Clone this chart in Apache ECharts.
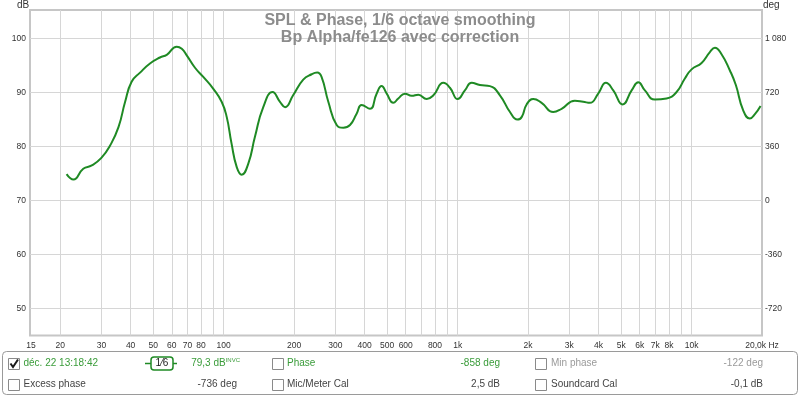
<!DOCTYPE html>
<html>
<head>
<meta charset="utf-8">
<script src="https://cdn.jsdelivr.net/npm/echarts@6/dist/echarts.min.js"></script>
<style>
  html, body { margin: 0; padding: 0; background: #fff; }
  #main { width: 800px; height: 397px; }
</style>
</head>
<body>
<div id="main"></div>
<script>
// SPL curve
const freqHz = [21.3, 22.8, 25.1, 27.3, 30, 32.7, 35.5, 37.9, 40.4, 43.9, 48.4, 53.4, 57.1, 63, 66.2, 69.5,
  75.4, 81.8, 90.3, 98, 103, 108, 113.7, 119.4, 127.5, 136, 147.6, 161.9, 174, 183, 198, 218.8, 237.7,
  251, 262, 280, 304, 324.6, 346.7, 370, 388.7, 421.9, 450.5, 473, 497.6, 531, 557.6, 595.5, 636, 679,
  737.7, 787.6, 868.7, 927, 1000, 1074, 1148, 1245, 1374, 1516, 1674, 1800, 1880, 1972, 2105, 2285,
  2563, 2782, 3170, 3441, 3676, 3990, 4303, 4627, 5073, 5543, 5920, 6317, 6966, 7814, 8627, 9361,
  10000, 11036, 11975, 12580, 13430, 14580, 15460, 16620, 17750, 18650, 19720];
const splDb = [74.9, 73.9, 75.9, 76.5, 77.9, 80.2, 83.6, 88.3, 92.0, 93.7, 95.4, 96.5, 97.0, 98.5, 98.1, 96.9,
  94.6, 92.9, 90.7, 88.3, 85.5, 80.6, 76.2, 74.8, 76.9, 81.8, 87.3, 90.1, 88.3, 87.3, 89.5, 92.4, 93.4,
  93.7, 92.9, 88.3, 84.0, 83.5, 84.0, 86.1, 87.7, 87.0, 89.8, 91.2, 89.8, 88.1, 88.9, 89.8, 89.4, 89.6,
  88.8, 89.5, 91.8, 90.9, 88.8, 90.4, 91.8, 91.4, 91.2, 89.5, 86.4, 85.0, 85.5, 87.8, 88.8, 88.1,
  86.4, 87.0, 88.5, 88.3, 88.1, 89.8, 91.8, 90.4, 87.8, 90.4, 91.9, 90.4, 88.7, 88.9, 90.1, 92.6,
  94.3, 95.5, 97.5, 98.3, 97.1, 94.1, 91.4, 86.7, 85.2, 86.0, 87.5];

const xLabelHz = [15, 20, 30, 40, 50, 60, 70, 80, 100, 200, 300, 400, 500, 600, 800,
  1000, 2000, 3000, 4000, 5000, 6000, 7000, 8000, 10000, 20000];
const xGridHz = [20, 30, 40, 50, 60, 70, 80, 90, 100, 200, 300, 400, 500, 600, 700, 800, 900,
  1000, 2000, 3000, 4000, 5000, 6000, 7000, 8000, 9000, 10000];
const dbTicks = [50, 60, 70, 80, 90, 100];
const phaseTicks = [-720, -360, 0, 360, 720, 1080];

const FONT = 'Liberation Sans, Arial, sans-serif';
const GREEN = '#1f8a24';
const TXTGREEN = '#3a9c3a';

const chart = echarts.init(document.getElementById('main'));

function hzLabel(v) {
  const f = Math.round(Math.pow(10, v));
  if (f >= 20000) return '20,0k Hz';
  if (f >= 1000) return (f / 1000) + 'k';
  return String(f);
}

function box(x, y) {
  return { type: 'rect', shape: { x: x, y: y, width: 11, height: 11 },
    style: { fill: '#fff', stroke: '#8a8a8a', lineWidth: 1 } };
}
function txt(x, y, s, color, align) {
  return { type: 'text', x: x, y: y,
    style: { text: s, fill: color, font: '10px ' + FONT, align: align || 'left', textAlign: align || 'left',
      verticalAlign: 'middle', textVerticalAlign: 'middle' } };
}

const r1 = 363.5, r2 = 384.5;

const option = {
  animation: false,
  backgroundColor: '#fff',
  title: {
    text: 'SPL & Phase, 1/6 octave smoothing\nBp Alpha/fe126 avec correction',
    left: 'center',
    top: 7,
    textStyle: { fontFamily: FONT, fontSize: 16, fontWeight: 'bold', color: '#8c8c8c', lineHeight: 17 }
  },
  grid: {
    left: 30, top: 10, width: 732, height: 325.5,
    show: true, borderColor: '#c6c6c6', borderWidth: 2, backgroundColor: '#fff'
  },
  xAxis: {
    type: 'value',
    min: Math.log10(14.86),
    max: Math.log10(20000),
    axisLine: { show: false },
    axisTick: { show: false, customValues: xGridHz.map(f => Math.log10(f)) },
    splitLine: { show: true, lineStyle: { color: '#d6d6d6', width: 1 } },
    axisLabel: {
      customValues: xLabelHz.map(f => Math.log10(f)),
      formatter: hzLabel,
      fontFamily: FONT, fontSize: 8.5, color: '#333', margin: 6
    }
  },
  yAxis: [
    {
      type: 'value', min: 45, max: 105.3,
      axisLine: { show: false },
      axisTick: { show: false, customValues: dbTicks },
      splitLine: { show: true, lineStyle: { color: '#d6d6d6', width: 1 } },
      axisLabel: { customValues: dbTicks, fontFamily: FONT, fontSize: 8.5, color: '#333', margin: 4 }
    },
    {
      type: 'value', min: -900, max: 1270.8, position: 'right',
      axisLine: { show: false },
      axisTick: { show: false, customValues: phaseTicks },
      splitLine: { show: false },
      axisLabel: {
        customValues: phaseTicks,
        formatter: v => (v === 1080 ? '1 080' : String(v)),
        fontFamily: FONT, fontSize: 8.5, color: '#333', margin: 3
      }
    }
  ],
  series: [
    {
      name: 'SPL',
      type: 'line',
      data: freqHz.map((f, i) => [Math.log10(f), splDb[i]]),
      showSymbol: false,
      smooth: 0.5,
      lineStyle: { color: GREEN, width: 2 },
      itemStyle: { color: GREEN }
    }
  ],
  graphic: [
    txt(17, 5, 'dB', '#333'),
    txt(763, 5, 'deg', '#333'),
    { type: 'rect', shape: { x: 2.5, y: 351.5, width: 795, height: 43, r: 4 },
      style: { fill: '#fff', stroke: '#9a9a9a', lineWidth: 1 } },
    box(8.5, 358.5),
    { type: 'polyline', shape: { points: [[10.5, 363.5], [13, 367], [18, 359.5]] },
      style: { stroke: '#1a1a1a', lineWidth: 2, fill: null } },
    txt(23.5, r1, 'déc. 22 13:18:42', TXTGREEN),
    { type: 'line', shape: { x1: 145, y1: r1, x2: 151, y2: r1 }, style: { stroke: GREEN, lineWidth: 1.5 } },
    { type: 'line', shape: { x1: 173, y1: r1, x2: 177, y2: r1 }, style: { stroke: GREEN, lineWidth: 1.5 } },
    { type: 'rect', shape: { x: 151, y: 357, width: 22, height: 13, r: 3 },
      style: { fill: '#fff', stroke: GREEN, lineWidth: 1.5 } },
    txt(162, r1, '1⁄6', '#222', 'center'),
    { type: 'text', x: 240, y: r1,
      style: { text: '{a|79,3 dB}{b|INVC}', align: 'right', textAlign: 'right',
        verticalAlign: 'middle', textVerticalAlign: 'middle',
        rich: { a: { font: '10px ' + FONT, fill: TXTGREEN, color: TXTGREEN },
                b: { font: '6px ' + FONT, fill: TXTGREEN, color: TXTGREEN, verticalAlign: 'top', padding: [0, 0, 6, 0] } } } },
    box(272.5, 358.5),
    txt(287, r1, 'Phase', TXTGREEN),
    txt(500, r1, '-858 deg', TXTGREEN, 'right'),
    box(535.5, 358.5),
    txt(551, r1, 'Min phase', '#9a9a9a'),
    txt(763, r1, '-122 deg', '#9a9a9a', 'right'),
    box(8.5, 379.5),
    txt(23.5, r2, 'Excess phase', '#444'),
    txt(237, r2, '-736 deg', '#444', 'right'),
    box(272.5, 379.5),
    txt(287, r2, 'Mic/Meter Cal', '#444'),
    txt(500, r2, '2,5 dB', '#444', 'right'),
    box(535.5, 379.5),
    txt(551, r2, 'Soundcard Cal', '#444'),
    txt(763, r2, '-0,1 dB', '#444', 'right')
  ]
};

chart.setOption(option);
</script>
</body>
</html>
